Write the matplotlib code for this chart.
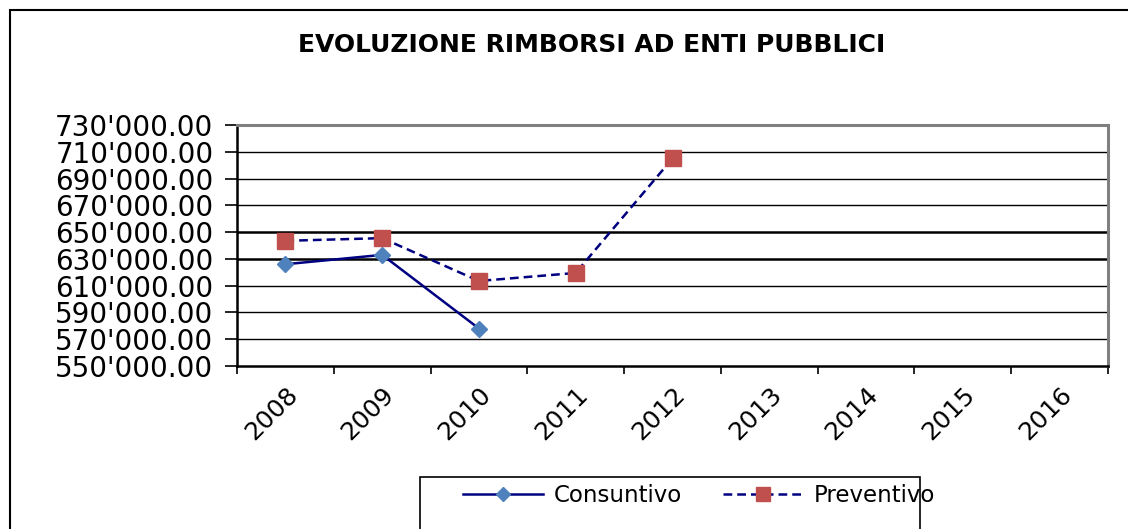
import matplotlib
matplotlib.use("Agg")
import matplotlib.pyplot as plt
from matplotlib.patches import Rectangle
import numpy as np

years = ['2008', '2009', '2010', '2011', '2012', '2013', '2014', '2015', '2016']
consuntivo = [626000, 633000, 578000]
preventivo = [643500, 645500, 613500, 619500, 705000]
yticks = list(range(550000, 730001, 20000))

plt.rcParams['font.family'] = ['DejaVu Sans']

fig = plt.figure(figsize=(11.28, 5.29), dpi=100)
W, H = 1128, 529

# outer chart frame (extends past right/bottom edges)
fig.patches.append(Rectangle((10 / W, -0.1), 1.2, 1 - 10 / H + 0.1,
                             transform=fig.transFigure, fill=False,
                             edgecolor='black', linewidth=1.5))

ax = fig.add_axes([237 / W, 1 - 366 / H, (1108 - 237) / W, (366 - 125) / H])

x_c = np.arange(len(consuntivo))
x_p = np.arange(len(preventivo))

for v in yticks[1:-1]:
    lw = 1.8 if v in (630000, 650000) else 1.0
    ax.axhline(v, color='black', linewidth=lw, zorder=1)

ax.plot(x_c, consuntivo, color='#000080', linewidth=1.8, marker='D',
        markersize=8.5, markerfacecolor='#4F81BD', markeredgecolor='#4F81BD',
        label='Consuntivo', zorder=3)
ax.plot(x_p, preventivo, color='#000080', linewidth=1.8, linestyle=(0, (3.5, 2)),
        marker='s', markersize=12, markerfacecolor='#C0504D',
        markeredgecolor='#C0504D', label='Preventivo', zorder=3)

ax.set_xlim(-0.5, len(years) - 0.5)
ax.set_ylim(yticks[0], yticks[-1])
ax.set_yticks(yticks)
ax.set_yticklabels([f"{v:,.2f}".replace(',', "'") for v in yticks], fontsize=20)
ax.tick_params(axis='y', direction='out', length=9, width=1.2, pad=8)

ax.set_xticks(np.arange(-0.5, len(years)), labels=[''] * (len(years) + 1))
ax.set_xticks(np.arange(len(years)), minor=True)
ax.set_xticklabels(years, minor=True, fontsize=18, rotation=45,
                   ha='right', va='top', rotation_mode='anchor')
ax.tick_params(axis='x', which='major', direction='out', length=6, width=1.2)
ax.tick_params(axis='x', which='minor', length=0, pad=12)

for s in ('left', 'bottom'):
    ax.spines[s].set_color('black')
    ax.spines[s].set_linewidth(1.8)
for s in ('top', 'right'):
    ax.spines[s].set_color('#808080')
    ax.spines[s].set_linewidth(2.2)

fig.text(592 / W, 1 - 45.5 / H, 'EVOLUZIONE RIMBORSI AD ENTI PUBBLICI',
         ha='center', va='center', fontsize=18, fontweight='bold')

# legend frame, cut by the bottom edge like in the source
fig.patches.append(Rectangle((420 / W, -0.1), 500 / W, 0.1 + 1 - 477 / H,
                             transform=fig.transFigure, fill=False,
                             edgecolor='black', linewidth=1.2))
fig.legend(loc='center left', bbox_to_anchor=(463 / W, 1 - 496 / H), ncol=2,
           frameon=False, fontsize=16.5, handlelength=3.5, handletextpad=0.45,
           columnspacing=1.8, borderpad=0, borderaxespad=0, markerscale=0.85)

fig.savefig('out.png', dpi=100)
